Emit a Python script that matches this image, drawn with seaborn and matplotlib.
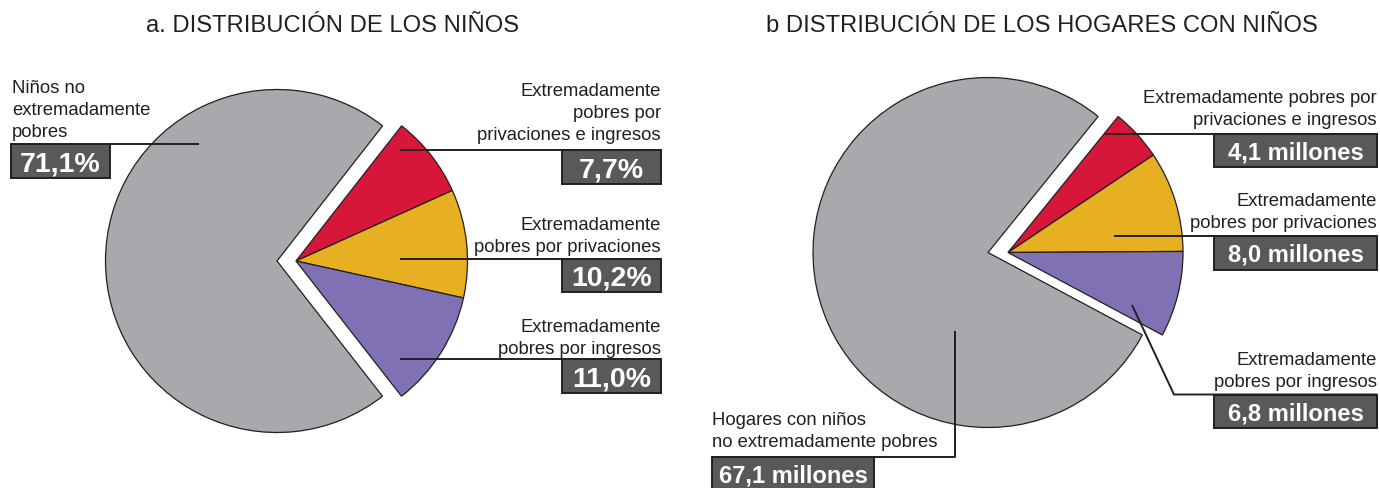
import matplotlib
matplotlib.use("Agg")
import matplotlib.pyplot as plt
from matplotlib.patches import Rectangle
import seaborn as sns

# ---- data -----------------------------------------------------------------
titles = ["a. DISTRIBUCIÓN DE LOS NIÑOS",
          "b DISTRIBUCIÓN DE LOS HOGARES CON NIÑOS"]
categories = ["Extremadamente pobres por privaciones e ingresos",
              "Extremadamente pobres por privaciones",
              "Extremadamente pobres por ingresos",
              "No extremadamente pobres"]
ninos_pct = [7.7, 10.2, 11.0, 71.1]
hogares_millones = [4.1, 8.0, 6.8, 67.1]

ninos_labels = [["Extremadamente", "pobres por", "privaciones e ingresos"],
                ["Extremadamente", "pobres por privaciones"],
                ["Extremadamente", "pobres por ingresos"],
                ["Niños no", "extremadamente", "pobres"]]
hogares_labels = [["Extremadamente pobres por", "privaciones e ingresos"],
                  ["Extremadamente", "pobres por privaciones"],
                  ["Extremadamente", "pobres por ingresos"],
                  ["Hogares con niños", "no extremadamente pobres"]]

slice_colors = ["#D7173A", "#E6B022", "#8071B5", "#A7A9AC"]

# ---- style ----------------------------------------------------------------
sns.set_style("white")
plt.rcParams["font.family"] = ["Liberation Sans", "DejaVu Sans"]
INK = "#231F20"
BOX = "#58595B"

W, H, DPI = 1380, 488, 100
fig = plt.figure(figsize=(W / DPI, H / DPI), dpi=DPI)
fig.patch.set_facecolor("white")

LABEL_PT = 13.3
LINE_PITCH = 22.2


def fmt(v):
    return f"{v:.1f}".replace(".", ",")


def pie_axes(cx, cy, r):
    half = 1.3 * r
    return fig.add_axes([(cx - half) / W, (H - cy - half) / H,
                         2 * half / W, 2 * half / H])


def draw_pie(ax, values, start, shift):
    wedges, _ = ax.pie(values, colors=slice_colors, startangle=start,
                       counterclock=False,
                       wedgeprops=dict(edgecolor=INK, linewidth=0.9))
    # pull the poor group to the right, the rest to the left
    for w in wedges[:-1]:
        w.set_center((shift, 0))
    wedges[-1].set_center((-shift, 0))
    ax.set_aspect("auto")
    ax.set_xlim(-1.3, 1.3)
    ax.set_ylim(-1.3, 1.3)
    ax.axis("off")


# left pie: children, right pie: households
ax_a = pie_axes(286.5, 261.0, 171.5)
draw_pie(ax_a, ninos_pct, 52, 9.5 / 171.5)
ax_b = pie_axes(998.0, 252.5, 175.0)
draw_pie(ax_b, hogares_millones, 51, 10.0 / 175.0)

# ---- annotation layer in pixel coordinates -------------------------------
ov = fig.add_axes([0, 0, 1, 1], zorder=5)
ov.set_xlim(0, W)
ov.set_ylim(H, 0)
ov.axis("off")

ov.text(333, 32, titles[0], ha="center", va="baseline", fontsize=17.1,
        color=INK)
ov.text(1042, 32, titles[1], ha="center", va="baseline", fontsize=17.1,
        color=INK)


def label_lines(x, baseline, lines, ha):
    for i, line in enumerate(lines):
        ov.text(x, baseline + i * LINE_PITCH, line, ha=ha, va="baseline",
                fontsize=LABEL_PT, color=INK)


def value_box(x0, x1, y0, y1, text, size):
    ov.add_patch(Rectangle((x0, y0), x1 - x0, y1 - y0, facecolor=BOX,
                           edgecolor=INK, linewidth=1.4, clip_on=True))
    cap = 0.716 * size * DPI / 72
    ov.text((x0 + x1) / 2, (y0 + y1) / 2 + cap / 2, text, ha="center",
            va="baseline", color="white", fontsize=size, fontweight="bold")


def leader(xs, ys):
    ov.plot(xs, ys, color=INK, linewidth=1.4, solid_capstyle="butt")


# children
pct_text = [fmt(v) + "%" for v in ninos_pct]
label_lines(12, 93, ninos_labels[3], "left")
value_box(11, 110, 144, 178, pct_text[3], 20.5)
leader([110, 199], [144, 144])

label_lines(661, 96, ninos_labels[0], "right")
value_box(562, 661, 150, 184, pct_text[0], 20.5)
leader([400, 661], [150, 150])

label_lines(661, 229.5, ninos_labels[1], "right")
value_box(562, 661, 259, 292, pct_text[1], 20.5)
leader([400, 661], [259, 259])

label_lines(661, 331.5, ninos_labels[2], "right")
value_box(562, 661, 359, 393, pct_text[2], 20.5)
leader([400, 661], [359, 359])

# households
mill_text = [fmt(v) + " millones" for v in hogares_millones]
label_lines(1377, 103, hogares_labels[0], "right")
value_box(1214, 1377, 134, 167, mill_text[0], 17.1)
leader([1105, 1377], [134, 134])

label_lines(1377, 206, hogares_labels[1], "right")
value_box(1214, 1377, 236, 270, mill_text[1], 17.1)
leader([1114, 1377], [236, 236])

label_lines(1377, 365, hogares_labels[2], "right")
value_box(1214, 1377, 395, 428, mill_text[2], 17.1)
leader([1132, 1174, 1377], [305, 394.5, 394.5])

label_lines(712, 425, hogares_labels[3], "left")
value_box(712, 874, 457, 491, mill_text[3], 17.1)
leader([955, 955, 712], [331, 457, 457])

fig.savefig("out.png", dpi=DPI, facecolor="white")
